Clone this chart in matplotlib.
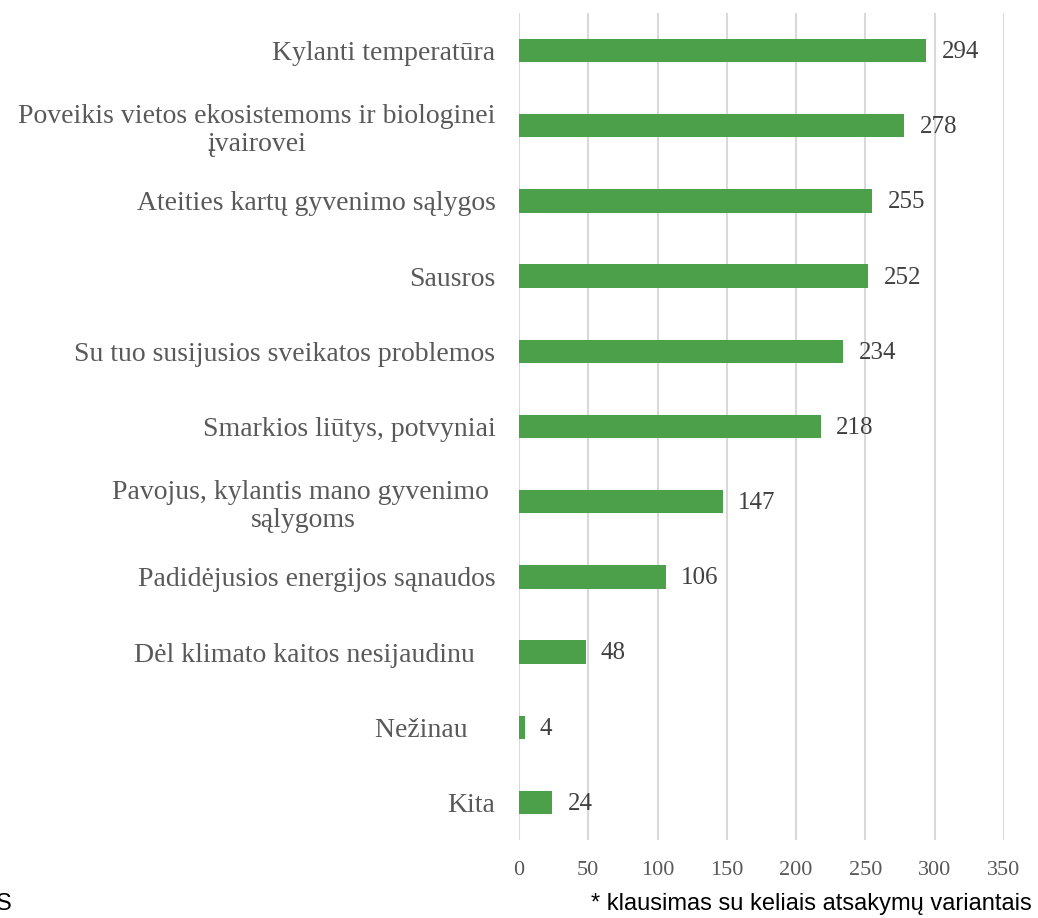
import matplotlib
matplotlib.use("Agg")
import matplotlib.pyplot as plt

categories = [
    "Kylanti temperatūra",
    "Poveikis vietos ekosistemoms ir biologinei\nįvairovei",
    "Ateities kartų gyvenimo sąlygos",
    "Sausros",
    "Su tuo susijusios sveikatos problemos",
    "Smarkios liūtys, potvyniai",
    "Pavojus, kylantis mano gyvenimo \nsąlygoms",
    "Padidėjusios energijos sąnaudos",
    "Dėl klimato kaitos nesijaudinu   ",
    "Nežinau    ",
    "Kita",
]
values = [294, 278, 255, 252, 234, 218, 147, 106, 48, 4, 24]
xticks = [0, 50, 100, 150, 200, 250, 300, 350]

fig = plt.figure(figsize=(10.38, 9.18), dpi=100)
ax = fig.add_axes([0.5, 0.085, 0.9672 - 0.5, 0.9858 - 0.085])

n = len(categories)
ypos = list(range(n))
ax.barh(ypos, values, height=0.31, color="#4CA04A", zorder=3)
ax.set_ylim(n - 0.5, -0.5)
ax.set_xlim(0, 350)
ax.set_xticks(xticks)
ax.set_yticks(ypos)
ax.set_yticklabels(categories, fontfamily="Liberation Serif", fontsize=20,
                   color="#595959", multialignment="center", linespacing=1.15)
for lbl in ax.get_xticklabels():
    lbl.set_fontfamily("Liberation Serif")
    lbl.set_fontsize(16)
    lbl.set_color("#595959")
ax.tick_params(axis="both", length=0)
ax.tick_params(axis="y", pad=17)
ax.tick_params(axis="x", pad=15)
for s in ax.spines.values():
    s.set_visible(False)
ax.grid(axis="x", color="#D9D9D9", linewidth=1.5, zorder=0)
ax.set_axisbelow(True)

for y, v in zip(ypos, values):
    ax.annotate(str(v), (v, y), xytext=(11, -1), textcoords="offset points",
                va="center", ha="left", fontfamily="Liberation Serif",
                fontsize=18, color="#404040")

fig.text(0.994, 0.003, "* klausimas su keliais atsakymų variantais", ha="right",
         va="bottom", fontfamily="Liberation Sans", fontsize=17, color="black")
fig.text(-0.004, 0.003, "S", ha="left", va="bottom", fontfamily="Liberation Sans",
         fontsize=17, color="black")

fig.savefig("out.png", dpi=100)
